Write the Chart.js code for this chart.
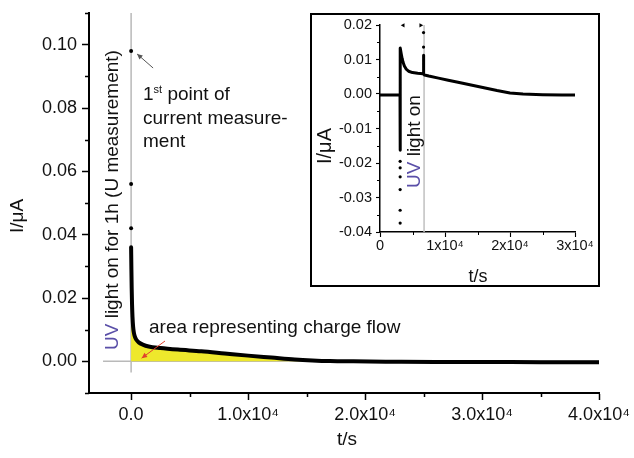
<!DOCTYPE html>
<html>
<head>
<meta charset="utf-8">
<script src="https://cdn.jsdelivr.net/npm/chart.js@4.4.3/dist/chart.umd.min.js"></script>
<style>
  body { margin: 0; background: #fff; }
  #main { position: absolute; left: 0; top: 0; }
  #inset-box { position: absolute; left: 310px; top: 13px; width: 290px; height: 274px;
               border: 2px solid #000; box-sizing: border-box; background: #fff; }
  #inset { display: block; }
</style>
</head>
<body>
<canvas id="main" width="634" height="458"></canvas>
<div id="inset-box"><canvas id="inset" width="286" height="270"></canvas></div>
<script>
const FONT = '"Liberation Sans", Arial, sans-serif';
const INK = '#111';

// main plot: current after switching UV on at t = 0
const mainT = [0, 25, 50, 80, 120, 170, 230, 320, 450, 650, 1000, 1500, 2500, 4000, 6000, 8000,
               10000, 12000, 14000, 15500, 17000, 19000, 22000, 26000, 30000, 35000, 40000];
const mainI = [0.036, 0.029, 0.023, 0.018, 0.014, 0.011, 0.0092, 0.0078, 0.0068, 0.006, 0.0053, 0.0047,
               0.0042, 0.0037, 0.0032, 0.0025, 0.0018, 0.0012, 0.0006, 0.0003, 0.0001, 0.0, -0.0001,
               -0.0002, -0.0002, -0.0003, -0.0003];
const firstT = [0, 0, 0];
const firstI = [0.098, 0.056, 0.042];
const uvMarkT = [0, 0];
const uvMarkI = [-0.0035, 0.11];
const zeroT = [-2400, 40000];
const zeroI = [0, 0];

const mainXMajor = [0, 10000, 20000, 30000, 40000];
const mainXLabels = ['0.0', '1.0x10⁴', '2.0x10⁴', '3.0x10⁴', '4.0x10⁴'];
const mainXMinor = [5000, 15000, 25000, 35000];
const mainYMajor = [0, 0.02, 0.04, 0.06, 0.08, 0.10];
const mainYMinor = [-0.01, 0.01, 0.03, 0.05, 0.07, 0.09, 0.11];

// inset: full run, UV on from ~3.1e3 s to ~6.7e3 s
const insetT = [0, 1500, 3000, 3080, 3100, 3120, 3250, 3400, 3550, 3750, 4000, 4400, 5000, 5800, 6600,
                6680, 6700, 6720, 6850, 7500, 9000, 10500, 12000, 14000, 16000, 18000, 20000, 22000,
                25000, 28000, 30000];
const insetI = [-0.0003, -0.0003, -0.0003, -0.0003, -0.0163, 0.0133, 0.0118, 0.0103, 0.0092, 0.0081,
                0.0073, 0.0066, 0.0062, 0.006, 0.0059, 0.0059, 0.0112, 0.0057, 0.0055, 0.0052, 0.0046,
                0.004, 0.0034, 0.0026, 0.0018, 0.001, 0.0003, 0.0, -0.0002, -0.0003, -0.0003];
const insetDotT = [3100, 3100, 3100, 3100, 3100, 3100, 6700, 6700];
const insetDotI = [-0.0195, -0.0214, -0.024, -0.0277, -0.0337, -0.0374, 0.0136, 0.0178];
const insetArrowT = [3580, 6260];
const insetArrowI = [0.0199, 0.0199];
const insetMarkT = [6780, 6780];
const insetMarkI = [-0.04, 0.02];

const insetXMajor = [0, 10000, 20000, 30000];
const insetXLabels = ['0', '1x10⁴', '2x10⁴', '3x10⁴'];
const insetXMinor = [5000, 15000, 25000];
const insetYMajor = [-0.04, -0.03, -0.02, -0.01, 0, 0.01, 0.02];
const insetYMinor = [-0.035, -0.025, -0.015, -0.005, 0.005, 0.015];

const pts = (xs, ys) => xs.map((x, i) => ({ x: x, y: ys[i] }));

Chart.defaults.font.family = FONT;
Chart.defaults.color = INK;

// short minor ticks, drawn through the scales
const minorTicks = {
  id: 'minorTicks',
  afterDraw(chart, args, opts) {
    const { ctx, scales: { x, y } } = chart;
    ctx.save();
    ctx.strokeStyle = '#000';
    ctx.lineWidth = opts.width;
    ctx.beginPath();
    opts.x.forEach(v => {
      const px = Math.round(x.getPixelForValue(v)) + 0.5;
      ctx.moveTo(px, y.bottom);
      ctx.lineTo(px, y.bottom + opts.len);
    });
    opts.y.forEach(v => {
      const py = Math.round(y.getPixelForValue(v)) + 0.5;
      ctx.moveTo(x.left, py);
      ctx.lineTo(x.left - opts.len, py);
    });
    ctx.stroke();
    ctx.restore();
  }
};

function rotText(ctx, parts, x, y, size) {
  ctx.save();
  ctx.translate(x, y);
  ctx.rotate(-Math.PI / 2);
  ctx.font = size + 'px ' + FONT;
  ctx.textAlign = 'left';
  ctx.textBaseline = 'alphabetic';
  let pos = 0;
  parts.forEach(([txt, color]) => {
    ctx.fillStyle = color;
    ctx.fillText(txt, pos, 0);
    pos += ctx.measureText(txt).width;
  });
  ctx.restore();
}

function centerText(ctx, txt, x, y, size, rotate) {
  ctx.save();
  ctx.translate(x, y);
  if (rotate) ctx.rotate(-Math.PI / 2);
  ctx.font = size + 'px ' + FONT;
  ctx.fillStyle = INK;
  ctx.textAlign = 'center';
  ctx.textBaseline = 'middle';
  ctx.fillText(txt, 0, 0);
  ctx.restore();
}

function arrow(ctx, x1, y1, x2, y2, color, head) {
  const a = Math.atan2(y2 - y1, x2 - x1);
  ctx.save();
  ctx.strokeStyle = color;
  ctx.fillStyle = color;
  ctx.lineWidth = 1;
  ctx.beginPath();
  ctx.moveTo(x1, y1);
  ctx.lineTo(x2, y2);
  ctx.stroke();
  ctx.beginPath();
  ctx.moveTo(x2, y2);
  ctx.lineTo(x2 - head * Math.cos(a - 0.45), y2 - head * Math.sin(a - 0.45));
  ctx.lineTo(x2 - head * Math.cos(a + 0.45), y2 - head * Math.sin(a + 0.45));
  ctx.closePath();
  ctx.fill();
  ctx.restore();
}

const UV = '#5a4fa8';

const mainNotes = {
  id: 'mainNotes',
  afterDraw(chart) {
    const { ctx, scales: { x, y } } = chart;
    centerText(ctx, 'I/μA', 18, 216, 19, true);
    centerText(ctx, 't/s', 347, 440, 19, false);
    rotText(ctx, [['UV', UV], [' light on for 1h (U measurement)', INK]], 118, 350, 19);

    ctx.save();
    ctx.fillStyle = INK;
    ctx.textBaseline = 'alphabetic';
    ctx.font = '19px ' + FONT;
    ctx.fillText('1', 143, 100);
    const w1 = ctx.measureText('1').width;
    ctx.font = '11px ' + FONT;
    ctx.fillText('st', 143 + w1, 93);
    const w2 = ctx.measureText('st').width;
    ctx.font = '19px ' + FONT;
    ctx.fillText(' point of', 143 + w1 + w2, 100);
    ctx.fillText('current measure-', 143, 124);
    ctx.fillText('ment', 143, 147);
    ctx.fillText('area representing charge flow', 149, 333);
    ctx.restore();

    const px = x.getPixelForValue(0), py = y.getPixelForValue(firstI[0]);
    arrow(ctx, px + 22, py + 17, px + 6, py + 3, '#555', 6);
    arrow(ctx, 165, 341, x.getPixelForValue(900), y.getPixelForValue(0.001), '#e0402c', 6);
  }
};

const insetNotes = {
  id: 'insetNotes',
  afterDraw(chart) {
    const { ctx } = chart;
    centerText(ctx, 'I/μA', 13, 131, 20, true);
    centerText(ctx, 't/s', 166, 262, 18, false);
    rotText(ctx, [['UV', UV], [' light on', INK]], 108, 173, 19);
  }
};

function linAxis(o) {
  return {
    type: 'linear',
    position: o.position,
    min: o.min,
    max: o.max,
    border: { display: true, color: '#000', width: o.borderWidth },
    grid: { display: true, drawOnChartArea: false, drawTicks: true, tickLength: o.tickLength,
            tickColor: '#000', tickWidth: o.borderWidth * 0.75 },
    ticks: { font: { size: o.fontSize }, color: INK, padding: o.padding, maxRotation: 0,
             autoSkip: false, callback: o.label },
    afterBuildTicks: s => { s.ticks = o.major.map(v => ({ value: v })); },
    afterFit: s => {
      if (o.position === 'bottom') s.height = o.size; else s.width = o.size;
      s.paddingLeft = 0; s.paddingRight = 0; s.paddingTop = 0; s.paddingBottom = 0;
    }
  };
}

new Chart(document.getElementById('main'), {
  type: 'line',
  data: {
    datasets: [
      { data: pts(mainT, mainI), borderColor: '#000', borderWidth: 4, pointRadius: 0,
        fill: 'origin', backgroundColor: '#eee82c', cubicInterpolationMode: 'monotone',
        borderJoinStyle: 'round', borderCapStyle: 'round' },
      { data: pts(firstT, firstI), showLine: false, pointRadius: 2, pointBackgroundColor: '#000',
        pointBorderWidth: 0 },
      { data: pts(uvMarkT, uvMarkI), borderColor: '#b9b9b9', borderWidth: 1.5, pointRadius: 0 },
      { data: pts(zeroT, zeroI), borderColor: '#b9b9b9', borderWidth: 1.5, pointRadius: 0 }
    ]
  },
  options: {
    responsive: false,
    animation: false,
    layout: { padding: { left: 0, top: 13, right: 35, bottom: 0 } },
    plugins: {
      legend: { display: false },
      tooltip: { enabled: false },
      minorTicks: { x: mainXMinor, y: mainYMinor, len: 4, width: 1.5 }
    },
    scales: {
      x: linAxis({ position: 'bottom', min: -3600, max: 40000, borderWidth: 2, tickLength: 7,
                   fontSize: 18, padding: 4, size: 65, major: mainXMajor,
                   label: v => mainXLabels[mainXMajor.indexOf(v)] }),
      y: linAxis({ position: 'left', min: -0.01, max: 0.11, borderWidth: 2, tickLength: 7,
                   fontSize: 18, padding: 5, size: 89, major: mainYMajor,
                   label: v => v.toFixed(2) })
    }
  },
  plugins: [minorTicks, mainNotes]
});

new Chart(document.getElementById('inset'), {
  type: 'line',
  data: {
    datasets: [
      { data: pts(insetT, insetI), borderColor: '#000', borderWidth: 3, pointRadius: 0, tension: 0,
        borderJoinStyle: 'round', borderCapStyle: 'round' },
      { data: pts(insetDotT, insetDotI), showLine: false, pointRadius: 1.6,
        pointBackgroundColor: '#000', pointBorderWidth: 0 },
      { data: pts(insetArrowT, insetArrowI), showLine: false, pointStyle: 'triangle', pointRadius: 2.5,
        pointRotation: [270, 90], pointBackgroundColor: '#000', pointBorderWidth: 0, clip: false },
      { data: pts(insetMarkT, insetMarkI), borderColor: '#c0c0c0', borderWidth: 1.5, pointRadius: 0 }
    ]
  },
  options: {
    responsive: false,
    animation: false,
    layout: { padding: { left: 0, top: 10, right: 23, bottom: 0 } },
    plugins: {
      legend: { display: false },
      tooltip: { enabled: false },
      minorTicks: { x: insetXMinor, y: insetYMinor, len: 3, width: 1 }
    },
    scales: {
      x: linAxis({ position: 'bottom', min: 0, max: 30000, borderWidth: 1.5, tickLength: 5,
                   fontSize: 14.5, padding: 0, size: 53, major: insetXMajor,
                   label: v => insetXLabels[insetXMajor.indexOf(v)] }),
      y: linAxis({ position: 'left', min: -0.04, max: 0.02, borderWidth: 1.5, tickLength: 4,
                   fontSize: 14.5, padding: 4, size: 68, major: insetYMajor,
                   label: v => v.toFixed(2) })
    }
  },
  plugins: [minorTicks, insetNotes]
});
</script>
</body>
</html>
